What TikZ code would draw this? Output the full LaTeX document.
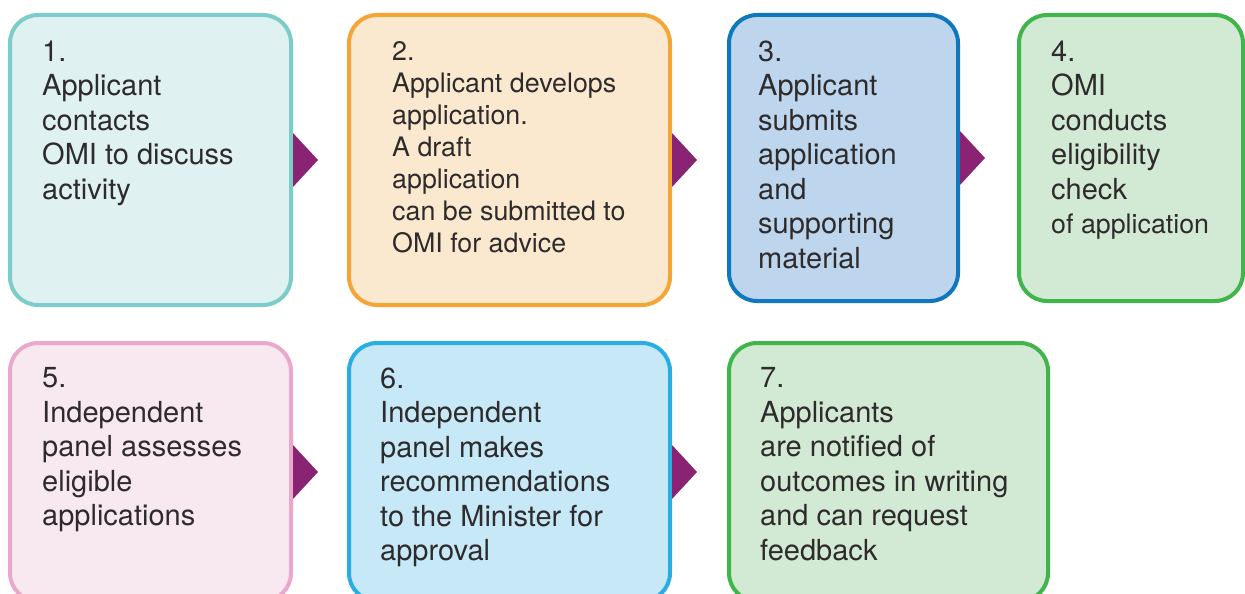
\documentclass[tikz,border=0pt]{standalone}
\usepackage{fontspec}
\setmainfont{TeX Gyre Heros}
\begin{document}
\begin{tikzpicture}[x=1pt,y=-1pt,
  box/.style={rounded corners=28pt, line width=4pt, inner sep=0pt, outer sep=0pt},
  txt/.style={anchor=north west, align=left, inner sep=0pt, text=textc,
    font=\fontsize{29}{34.5}\selectfont},
  txtsmall/.style={txt, font=\fontsize{26.8}{32}\selectfont},
  arr/.style={fill=arrowc, draw=none}]
\definecolor{textc}{HTML}{2E2B2C}
\definecolor{arrowc}{HTML}{8A2373}
\definecolor{f1}{HTML}{DFF1F1}\definecolor{d1}{HTML}{7CCDC9}
\definecolor{f2}{HTML}{FAE9CF}\definecolor{d2}{HTML}{F4A535}
\definecolor{f3}{HTML}{BDD5ED}\definecolor{d3}{HTML}{0F77BE}
\definecolor{f4}{HTML}{D2E9D3}\definecolor{d4}{HTML}{3FB54B}
\definecolor{f5}{HTML}{F8E9F1}\definecolor{d5}{HTML}{EAA8CB}
\definecolor{f6}{HTML}{C6E8F7}\definecolor{d6}{HTML}{29AEE3}
\path[use as bounding box] (0,0) rectangle (1245,594);
\clip (0,0) rectangle (1245,594);
% row 1
\node[box, fill=f1, draw=d1, minimum width=281, minimum height=290] (b1) at (150.5,160) {};
\node[box, fill=f2, draw=d2, minimum width=321, minimum height=290] (b2) at (509.5,160) {};
\node[box, fill=f3, draw=d3, minimum width=229, minimum height=286] (b3) at (843.5,158) {};
\node[box, fill=f4, draw=d4, minimum width=224, minimum height=286] (b4) at (1131,158) {};
% row 2
\node[box, fill=f5, draw=d5, minimum width=281, minimum height=258] (b5) at (150.5,472) {};
\node[box, fill=f6, draw=d6, minimum width=321, minimum height=258] (b6) at (509.5,472) {};
\node[box, fill=f4, draw=d4, minimum width=319, minimum height=258] (b7) at (888.5,472) {};
% arrows
\fill[arr] ([xshift=2pt,yshift=-27pt]b1.east) -- ([xshift=27pt]b1.east) -- ([xshift=2pt,yshift=27pt]b1.east) -- cycle;
\fill[arr] ([xshift=2pt,yshift=-27pt]b2.east) -- ([xshift=27pt]b2.east) -- ([xshift=2pt,yshift=27pt]b2.east) -- cycle;
\fill[arr] ([xshift=2pt,yshift=-27pt]b3.east) -- ([xshift=27pt]b3.east) -- ([xshift=2pt,yshift=27pt]b3.east) -- cycle;
\fill[arr] ([xshift=2pt,yshift=-27pt]b5.east) -- ([xshift=27pt]b5.east) -- ([xshift=2pt,yshift=27pt]b5.east) -- cycle;
\fill[arr] ([xshift=2pt,yshift=-27pt]b6.east) -- ([xshift=27pt]b6.east) -- ([xshift=2pt,yshift=27pt]b6.east) -- cycle;
% texts
\node[txt] (t1) at (42,40.5) {1.\\Applicant\\contacts\\OMI to discuss\\activity};
\node[txtsmall] (t2) at (392,41) {2.\\Applicant develops\\application.\\A draft\\application\\can be submitted to\\OMI for advice};
\node[txt] (t3) at (758,40.5) {3.\\Applicant\\submits\\application\\and\\supporting\\material};
\node[txt] (t4) at (1051,40.5) {4.\\OMI\\conducts\\eligibility\\check\\{\fontsize{26.8}{34.5}\selectfont of application}};
\node[txt] (t5) at (42,367.5) {5.\\Independent\\panel assesses\\eligible\\applications};
\node[txt] (t6) at (380,367.5) {6.\\Independent\\panel makes\\recommendations\\to the Minister for\\approval};
\node[txt] (t7) at (760,367.5) {7.\\Applicants\\are notified of\\outcomes in writing\\and can request\\feedback};
\end{tikzpicture}
\end{document}
